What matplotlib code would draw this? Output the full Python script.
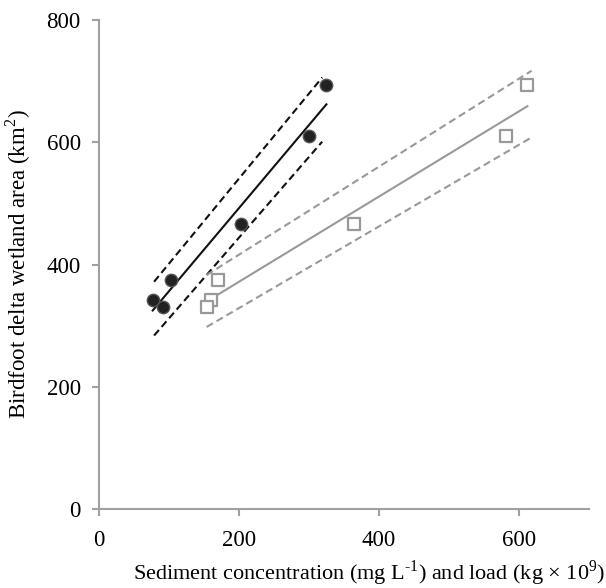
import numpy as np
import matplotlib.pyplot as plt

plt.rcParams['font.family'] = ['Liberation Serif', 'DejaVu Serif']
plt.rcParams['mathtext.fontset'] = 'custom'
plt.rcParams['mathtext.rm'] = 'Liberation Serif'

# wetland area (km2) with matching sediment concentration and load
area = [342, 331, 375, 466, 610, 693]
conc = [77, 92, 103, 203, 300, 325]
load = [160, 154, 170, 364, 581, 612]

# dashed bands (x ends, upper y, lower y)
conc_band_x = [79, 319]
conc_upper = [372, 706]
conc_lower = [284, 601]
load_band_x = [154, 618]
load_upper = [383, 717]
load_lower = [298, 608]

axis_col = '#a0a0a0'
gray = '#999999'

fig = plt.figure(figsize=(6.06, 5.88), dpi=100)
ax = fig.add_axes([0.163, 0.134, 0.809, 0.832])

# concentration (black)
k, b = np.polyfit(conc, area, 1)
xs = np.array([min(conc), max(conc)])
ax.plot(xs, k * xs + b, color='#111111', lw=1.5, zorder=3)
ax.plot(conc_band_x, conc_upper, color='#111111', lw=1.5, ls=(0, (3.5, 2)), zorder=3)
ax.plot(conc_band_x, conc_lower, color='#111111', lw=1.5, ls=(0, (3.5, 2)), zorder=3)
ax.scatter(conc, area, s=80, color='#222222', edgecolors='#555555', linewidths=1, zorder=4)

# load (gray)
k2, b2 = np.polyfit(load, area, 1)
xs2 = np.array([157, max(load)])
ax.plot(xs2, k2 * xs2 + b2, color=gray, lw=1.5, zorder=3)
ax.plot(load_band_x, load_upper, color=gray, lw=1.5, ls=(0, (3.5, 2)), zorder=3)
ax.plot(load_band_x, load_lower, color=gray, lw=1.5, ls=(0, (3.5, 2)), zorder=3)
ax.scatter(load, area, s=75, marker='s', facecolors='white', edgecolors=gray, linewidths=1.6, zorder=4)

ax.set_xlim(0, 700)
ax.set_ylim(0, 800)
ax.set_xticks([0, 200, 400, 600])
ax.set_yticks([0, 200, 400, 600, 800])

for s in ['top', 'right']:
    ax.spines[s].set_visible(False)
for s in ['left', 'bottom']:
    ax.spines[s].set_color(axis_col)
    ax.spines[s].set_linewidth(1.5)
ax.tick_params(axis='both', color=axis_col, width=1.5, length=5, labelsize=16.5)
ax.tick_params(axis='x', pad=10)
ax.tick_params(axis='y', pad=8)

ax.set_xlabel('Sediment concentration (mg L$^{\\text{-1}}$) and load (kg \u00d7 10$^{\\text{9}}$)',
              fontsize=16, labelpad=6)
ax.xaxis.set_label_coords(0.552, -0.1)
ax.set_ylabel('Birdfoot delta wetland area (km$^{\\text{2}}$)', fontsize=16.5, labelpad=10)

fig.savefig('out.png', dpi=100)
